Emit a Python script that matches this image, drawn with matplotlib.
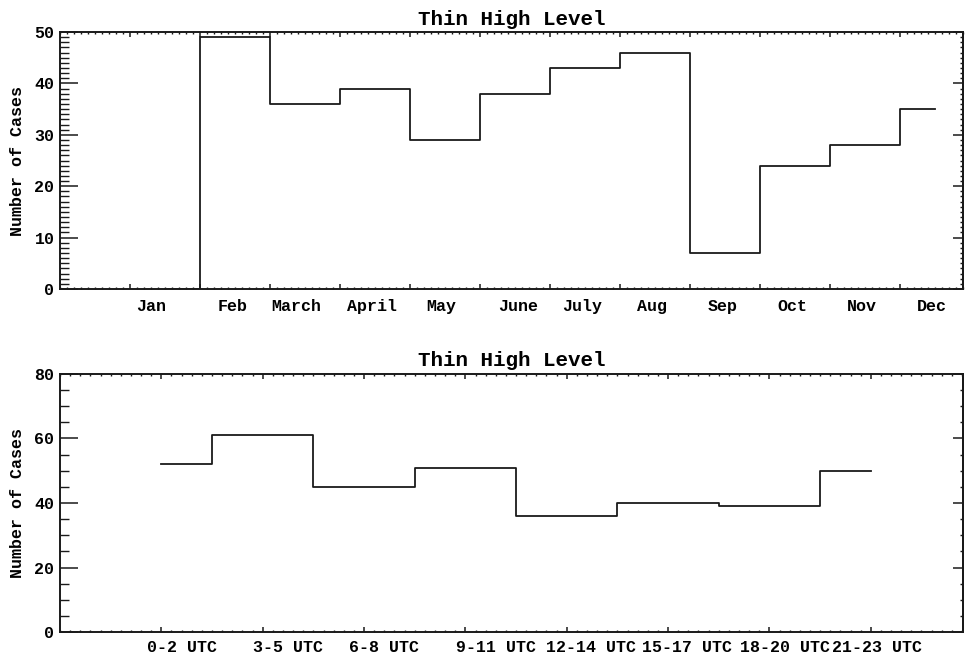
import matplotlib.pyplot as plt
import numpy as np
from matplotlib.ticker import MultipleLocator
from matplotlib.transforms import blended_transform_factory

# monthly counts (Jan has no cases)
months = ['Jan', 'Feb', 'March', 'April', 'May', 'June', 'July', 'Aug',
          'Sep', 'Oct', 'Nov', 'Dec']
month_cases = [0, 49, 36, 39, 29, 38, 43, 46, 7, 24, 28, 35]

# counts per 3-hour block
utc_bins = ['0-2 UTC', '3-5 UTC', '6-8 UTC', '9-11 UTC', '12-14 UTC',
            '15-17 UTC', '18-20 UTC', '21-23 UTC']
utc_cases = [52, 61, 45, 51, 36, 40, 39, 50]

title = 'Thin High Level'
ylabel = 'Number of Cases'

# where the category names sit along x (data units)
month_label_x = [-0.2, 0.96, 1.87, 2.96, 3.94, 5.04, 5.96, 6.96, 7.96, 8.96, 9.96, 10.96]
utc_label_x = [0.2, 1.25, 2.2, 3.3, 4.24, 5.19, 6.15, 7.06]

W, H = 965, 655
FONT = 'Liberation Mono'
INK = '#1a1a1a'


def px_x(p):
    return p / W


def px_y(p):
    return 1 - p / H


def style_axes(ax, ymaj, ymin, xmaj_ticks, xminor, xlim, ylim):
    ax.set_xlim(*xlim)
    ax.set_ylim(*ylim)
    for s in ax.spines.values():
        s.set_linewidth(1.4)
        s.set_color(INK)
    ax.set_xticks(xmaj_ticks)
    ax.xaxis.set_minor_locator(MultipleLocator(xminor))
    ax.yaxis.set_major_locator(MultipleLocator(ymaj))
    ax.yaxis.set_minor_locator(MultipleLocator(ymin))
    ax.tick_params(axis='x', which='major', direction='in', length=3.5, width=1.1,
                   top=True, bottom=True, labelbottom=False, color=INK)
    ax.tick_params(axis='x', which='minor', direction='in', length=1.6, width=1.0,
                   top=True, bottom=True, color=INK)
    # left side: long ticks with labels
    ax.tick_params(axis='y', which='major', direction='in', length=13, width=1.1,
                   left=True, right=False, pad=4, color=INK)
    ax.tick_params(axis='y', which='minor', direction='in', length=6.5, width=1.0,
                   left=True, right=False, color=INK)
    for lab in ax.get_yticklabels():
        lab.set_fontfamily(FONT)
        lab.set_fontweight('bold')
        lab.set_fontsize(12)

    # right side: shorter ticks, no labels
    sec = ax.secondary_yaxis('right')
    sec.spines['right'].set_linewidth(1.4)
    sec.yaxis.set_major_locator(MultipleLocator(ymaj))
    sec.yaxis.set_minor_locator(MultipleLocator(ymin))
    sec.tick_params(axis='y', which='major', direction='in', length=7.5, width=1.1,
                    labelright=False, color=INK)
    sec.tick_params(axis='y', which='minor', direction='in', length=2.2, width=1.0,
                    color=INK)


fig = plt.figure(figsize=(W / 100, H / 100), dpi=100)

# monthly panel
ax1 = fig.add_axes([px_x(60), px_y(289), px_x(963 - 60), (289 - 32) / H])
x1 = np.arange(len(months))
ax1.step(x1, month_cases, where='mid', color=INK, linewidth=1.3)
style_axes(ax1, 10, 1, np.arange(-0.5, 11, 1.0), 0.1, (-1.5, 11.4), (0, 50))
tr1 = blended_transform_factory(ax1.transData, fig.transFigure)
for lx, name in zip(month_label_x, months):
    ax1.text(lx, px_y(311), name, transform=tr1, ha='center', va='baseline',
             fontfamily=FONT, fontweight='bold', fontsize=12)

# hourly panel
ax2 = fig.add_axes([px_x(60), px_y(632), px_x(963 - 60), (632 - 374) / H])
x2 = np.arange(len(utc_bins))
ax2.step(x2, utc_cases, where='mid', color=INK, linewidth=1.3)
style_axes(ax2, 20, 5, np.arange(0, 8, 1), 0.1, (-1, 7.91), (0, 80))
tr2 = blended_transform_factory(ax2.transData, fig.transFigure)
for lx, name in zip(utc_label_x, utc_bins):
    ax2.text(lx, px_y(652), name, transform=tr2, ha='center', va='baseline',
             fontfamily=FONT, fontweight='bold', fontsize=12)

# titles and y labels
for top, bottom, base in [(32, 289, 25), (374, 632, 366)]:
    fig.text(px_x(511.5), px_y(base), title, ha='center', va='baseline',
             fontfamily=FONT, fontweight='bold', fontsize=15)
    fig.text(px_x(18), px_y((top + bottom) / 2), ylabel, rotation=90,
             ha='center', va='center', fontfamily=FONT, fontweight='bold',
             fontsize=12)

plt.savefig('out.png', dpi=100)
